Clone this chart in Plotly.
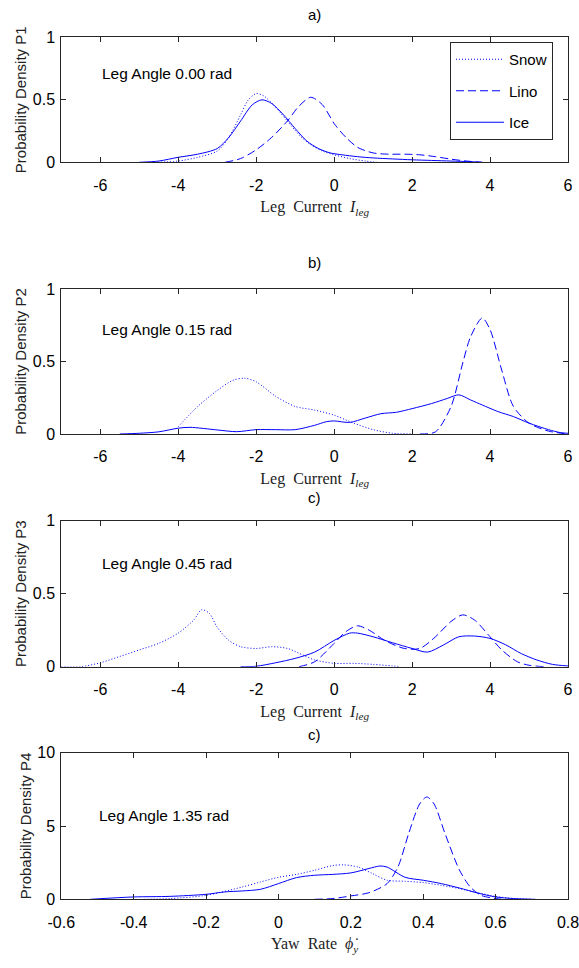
import plotly.graph_objects as go
from plotly.subplots import make_subplots

# ---------------- data ----------------
# Panel a) leg angle 0.00 rad
snow1_x = [-4.6, -4.0, -3.5, -3.0, -2.7, -2.4, -2.2, -2.0, -1.8, -1.5, -1.2, -0.9, -0.6, -0.3, 0.0, 0.4, 0.8, 1.1]
snow1_y = [0.0, 0.01, 0.04, 0.09, 0.2, 0.38, 0.5, 0.55, 0.53, 0.44, 0.33, 0.22, 0.14, 0.09, 0.06, 0.03, 0.01, 0.0]
lino1_x = [-2.8, -2.4, -2.0, -1.6, -1.2, -0.9, -0.6, -0.3, 0.0, 0.3, 0.6, 1.0, 1.4, 1.8, 2.2, 2.6, 3.0, 3.4, 3.8]
lino1_y = [0.0, 0.03, 0.1, 0.2, 0.33, 0.45, 0.52, 0.46, 0.31, 0.2, 0.12, 0.075, 0.065, 0.065, 0.06, 0.045, 0.025, 0.01, 0.0]
ice1_x = [-5.0, -4.5, -4.0, -3.5, -3.0, -2.7, -2.4, -2.1, -1.85, -1.6, -1.3, -1.0, -0.7, -0.4, -0.1, 0.2, 0.6, 1.0, 1.5, 2.0, 2.5, 3.0, 3.5, 3.8]
ice1_y = [0.0, 0.01, 0.04, 0.065, 0.11, 0.2, 0.33, 0.46, 0.5, 0.47, 0.38, 0.27, 0.17, 0.11, 0.075, 0.06, 0.045, 0.035, 0.027, 0.02, 0.015, 0.01, 0.005, 0.0]

# Panel b) leg angle 0.15 rad
snow2_x = [-4.0, -3.5, -3.0, -2.6, -2.3, -2.0, -1.5, -1.0, -0.5, 0.0, 0.5, 1.0, 1.5, 2.0]
snow2_y = [0.05, 0.19, 0.3, 0.37, 0.385, 0.36, 0.26, 0.19, 0.165, 0.13, 0.075, 0.03, 0.005, 0.0]
lino2_x = [2.2, 2.6, 3.0, 3.3, 3.5, 3.8, 4.0, 4.3, 4.6, 5.0, 5.5, 6.0]
lino2_y = [0.0, 0.015, 0.19, 0.49, 0.67, 0.8, 0.72, 0.44, 0.19, 0.075, 0.02, 0.0]
ice2_x = [-5.5, -5.0, -4.5, -4.0, -3.7, -3.0, -2.5, -2.0, -1.5, -1.0, -0.5, -0.2, 0.0, 0.4, 0.8, 1.2, 1.6, 2.0, 2.5, 2.9, 3.2, 3.5, 3.8, 4.2, 4.6, 5.0, 5.5, 5.8, 6.0]
ice2_y = [0.0, 0.005, 0.015, 0.04, 0.046, 0.028, 0.016, 0.03, 0.03, 0.03, 0.06, 0.085, 0.09, 0.08, 0.11, 0.14, 0.15, 0.175, 0.21, 0.245, 0.27, 0.235, 0.2, 0.155, 0.12, 0.075, 0.03, 0.01, 0.005]

# Panel c) leg angle 0.45 rad
snow3_x = [-7.0, -6.5, -6.0, -5.5, -5.0, -4.5, -4.0, -3.6, -3.4, -3.2, -3.0, -2.7, -2.4, -2.0, -1.6, -1.2, -0.8, -0.5, 0.0, 0.5, 1.0, 1.5, 1.7]
snow3_y = [0.0, 0.0, 0.027, 0.07, 0.115, 0.16, 0.23, 0.32, 0.39, 0.365, 0.27, 0.18, 0.137, 0.125, 0.137, 0.125, 0.08, 0.046, 0.023, 0.023, 0.016, 0.005, 0.0]
lino3_x = [-0.9, -0.5, 0.0, 0.3, 0.6, 0.9, 1.3, 1.8, 2.2, 2.6, 3.0, 3.3, 3.6, 4.0, 4.3, 4.7, 5.0, 5.4]
lino3_y = [0.0, 0.034, 0.16, 0.24, 0.28, 0.25, 0.18, 0.125, 0.125, 0.205, 0.31, 0.355, 0.32, 0.205, 0.115, 0.034, 0.01, 0.0]
ice3_x = [-2.4, -2.0, -1.5, -1.0, -0.5, 0.0, 0.4, 0.6, 1.0, 1.5, 2.0, 2.4, 2.8, 3.2, 3.6, 4.0, 4.4, 4.8, 5.2, 5.6, 6.0]
ice3_y = [0.0, 0.003, 0.027, 0.057, 0.1, 0.18, 0.23, 0.23, 0.205, 0.164, 0.125, 0.1, 0.148, 0.205, 0.21, 0.194, 0.15, 0.09, 0.046, 0.016, 0.005]

# Panel d) leg angle 1.35 rad
snow4_x = [-0.37, -0.3, -0.2, -0.1, -0.05, 0.0, 0.05, 0.1, 0.15, 0.18, 0.22, 0.26, 0.3, 0.35, 0.4, 0.45, 0.5, 0.55, 0.6, 0.65, 0.7]
snow4_y = [0.0, 0.05, 0.27, 0.84, 1.18, 1.5, 1.7, 1.98, 2.3, 2.35, 2.2, 1.75, 1.3, 1.23, 1.14, 0.95, 0.73, 0.45, 0.2, 0.05, 0.0]
lino4_x = [0.1, 0.15, 0.2, 0.25, 0.3, 0.33, 0.36, 0.39, 0.41, 0.43, 0.46, 0.5, 0.53, 0.56, 0.6, 0.62]
lino4_y = [0.0, 0.05, 0.23, 0.45, 1.07, 2.2, 4.5, 6.5, 6.98, 6.5, 4.5, 2.0, 0.84, 0.27, 0.05, 0.0]
ice4_x = [-0.52, -0.4, -0.3, -0.2, -0.15, -0.1, -0.05, 0.0, 0.05, 0.1, 0.15, 0.2, 0.25, 0.28, 0.3, 0.35, 0.4, 0.45, 0.5, 0.55, 0.6, 0.65, 0.71]
ice4_y = [0.0, 0.16, 0.2, 0.34, 0.5, 0.57, 0.68, 1.07, 1.48, 1.64, 1.7, 1.8, 2.1, 2.27, 2.2, 1.5, 1.3, 1.07, 0.77, 0.43, 0.16, 0.05, 0.0]

series_names = ["Snow", "Lino", "Ice"]
panel_titles = ["a)", "b)", "c)", "c)"]
angle_labels = ["Leg Angle 0.00 rad", "Leg Angle 0.15 rad", "Leg Angle 0.45 rad", "Leg Angle 1.35 rad"]
y_titles = ["Probability Density P1", "Probability Density P2", "Probability Density P3", "Probability Density P4"]
x_ticks_current = [-6, -4, -2, 0, 2, 4, 6]
x_ticks_yaw = [-0.6, -0.4, -0.2, 0, 0.2, 0.4, 0.6, 0.8]
x_ticktext_yaw = ["-0.6", "-0.4", "-0.2", "0", "0.2", "0.4", "0.6", "0.8"]
y_ticks_small = [0, 0.5, 1]
y_ticks_large = [0, 5, 10]

panels = [
    [(snow1_x, snow1_y), (lino1_x, lino1_y), (ice1_x, ice1_y)],
    [(snow2_x, snow2_y), (lino2_x, lino2_y), (ice2_x, ice2_y)],
    [(snow3_x, snow3_y), (lino3_x, lino3_y), (ice3_x, ice3_y)],
    [(snow4_x, snow4_y), (lino4_x, lino4_y), (ice4_x, ice4_y)],
]

# ---------------- styling ----------------
W, H = 579, 968
SANS = "Liberation Sans Narrow, Arial Narrow, Liberation Sans, Arial, sans-serif"
SERIF = "Liberation Serif, Times New Roman, serif"
BLUE = "#0000ff"
AX = "#262626"
dashes = {"Snow": "1px,2px", "Lino": "8px,4px", "Ice": "solid"}

# plot-area pixel boxes
x_left, x_right = 61.3, 568.0
boxes = [(37.3, 162.3), (289.0, 434.0), (520.7, 666.7), (752.7, 899.3)]
title_y = [14, 262, 497, 734]
angle_pos = [(-6.0, 0.71), (-6.0, 0.72), (-6.0, 0.71), (-0.50, 5.75)]

fig = make_subplots(rows=4, cols=1)

for i, panel in enumerate(panels):
    for name, (xs, ys) in zip(series_names, panel):
        fig.add_trace(
            go.Scatter(
                x=xs, y=ys, mode="lines", name=name,
                line=dict(color=BLUE, width=1, dash=dashes[name], shape="spline", smoothing=0.8),
                showlegend=(i == 0), legendgroup=name,
            ),
            row=i + 1, col=1,
        )

x_title_current = "Leg&#160;&#160;Current&#160;&#160;<i>I</i><sub><i>leg</i></sub>"
x_title_yaw = "Yaw&#160;&#160;Rate&#160;&#160;<i>\u03d5\u0307</i><sub><i>y</i></sub>"

common_axis = dict(
    showline=True, linecolor=AX, linewidth=1, mirror="allticks",
    ticks="inside", ticklen=5, tickcolor=AX, tickwidth=1,
    showgrid=False, zeroline=False, automargin=False,
    tickfont=dict(family=SANS, size=16, color="black"),
)

annotations = []
for i in range(4):
    top, bot = boxes[i]
    xa = "xaxis" if i == 0 else f"xaxis{i+1}"
    ya = "yaxis" if i == 0 else f"yaxis{i+1}"
    yaw = (i == 3)
    fig.layout[xa].update(
        domain=[x_left / W, x_right / W],
        range=[-0.6, 0.8] if yaw else [-7, 6],
        tickvals=x_ticks_yaw if yaw else x_ticks_current,
        ticktext=x_ticktext_yaw if yaw else [str(v) for v in x_ticks_current],
        ticklabelstandoff=8, ticklabeloverflow="allow",
        title=dict(text=x_title_yaw if yaw else x_title_current,
                   font=dict(family=SERIF, size=16, color="#222"), standoff=8),
        **common_axis,
    )
    fig.layout[ya].update(
        domain=[1 - bot / H, 1 - top / H],
        range=[0, 10] if yaw else [0, 1],
        tickvals=y_ticks_large if yaw else y_ticks_small,
        ticktext=[str(v) for v in (y_ticks_large if yaw else y_ticks_small)],
        ticklabelstandoff=2,
        title=dict(text=y_titles[i], font=dict(family=SANS, size=15, color="#222"), standoff=2),
        **common_axis,
    )
    annotations.append(dict(
        text=panel_titles[i], xref="paper", yref="paper",
        x=(x_left + x_right) / 2 / W, y=1 - title_y[i] / H,
        xanchor="center", yanchor="middle", showarrow=False,
        font=dict(family=SANS, size=15, color="black"),
    ))
    sfx = "" if i == 0 else str(i + 1)
    annotations.append(dict(
        text=angle_labels[i], xref="x" + sfx, yref="y" + sfx,
        x=angle_pos[i][0], y=angle_pos[i][1],
        xanchor="left", yanchor="middle", showarrow=False,
        font=dict(family=SANS, size=15.5, color="black"),
    ))

fig.update_layout(
    width=W, height=H,
    margin=dict(l=0, r=0, t=0, b=0),
    paper_bgcolor="white", plot_bgcolor="white",
    annotations=annotations,
    showlegend=True,
    legend=dict(
        x=450 / W, y=1 - 42 / H, xanchor="left", yanchor="top",
        bordercolor=AX, borderwidth=1, bgcolor="white",
        font=dict(family=SANS, size=15, color="black"),
        tracegroupgap=9, itemwidth=48, traceorder="grouped",
    ),
)

fig.write_html(
    "out.html",
    config={"displayModeBar": False},
    post_script="document.body.style.margin='0';document.body.style.overflow='hidden';",
)
